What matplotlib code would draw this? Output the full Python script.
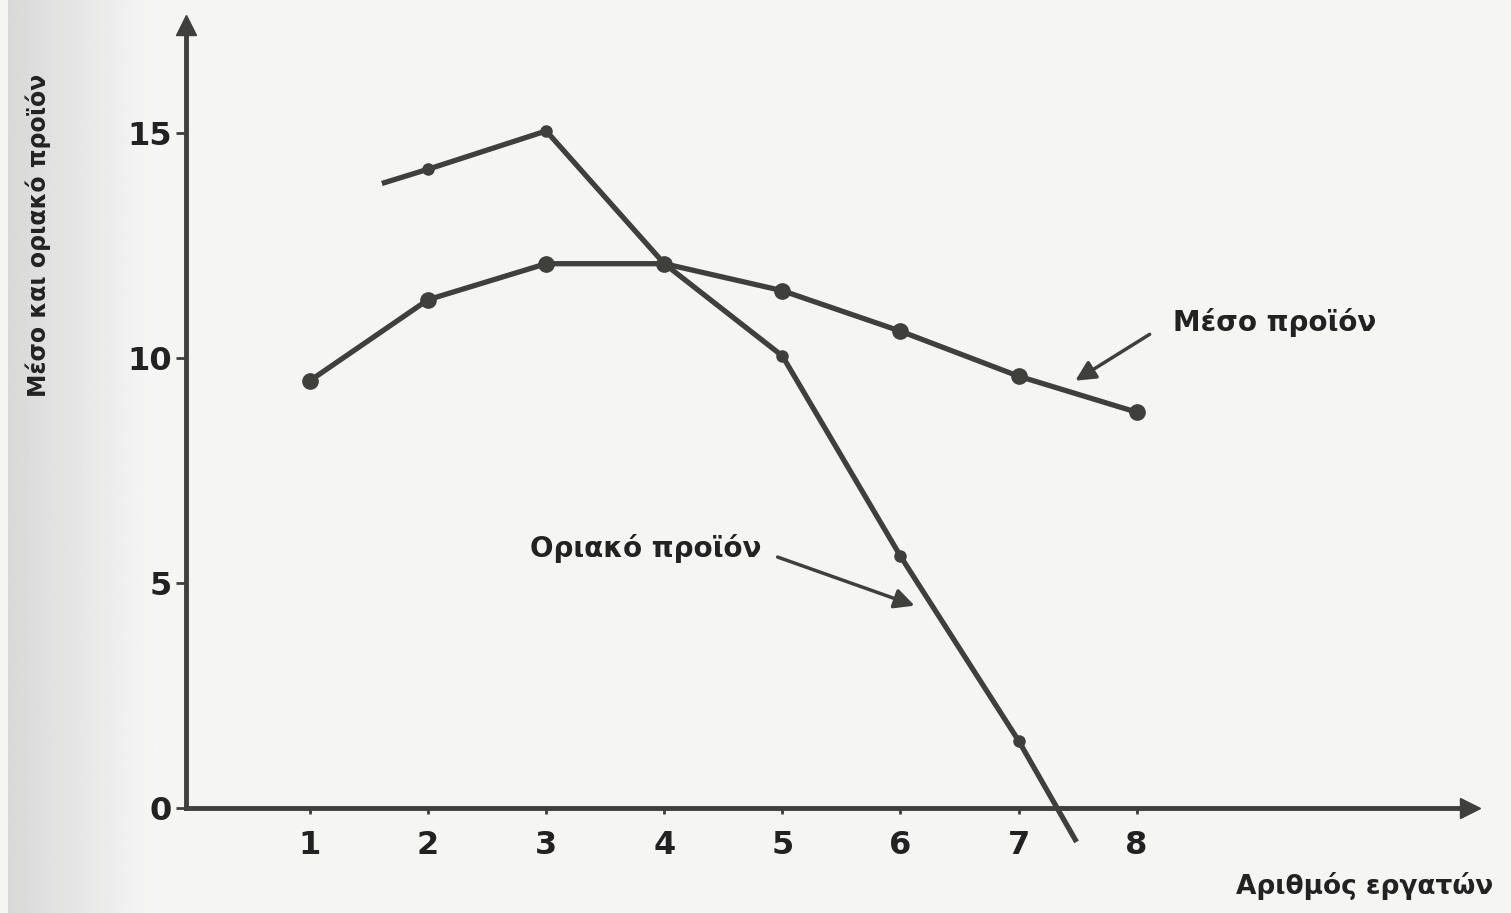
import numpy as np
import matplotlib
matplotlib.use("Agg")
import matplotlib.pyplot as plt

# data
workers = [1, 2, 3, 4, 5, 6, 7, 8]
avg_product = [9.5, 11.3, 12.1, 12.1, 11.5, 10.6, 9.6, 8.8]
mp_x = [1.63, 2, 3, 4, 5, 6, 7, 7.48]
mp_y = [13.9, 14.2, 15.05, 12.1, 10.05, 5.6, 1.5, -0.7]
mp_marked = [2, 3, 4, 5, 6, 7]
y_ticks = [0, 5, 10, 15]

ink = '#3f3f3c'
plt.rcParams['font.family'] = ['DejaVu Sans']

fig = plt.figure(figsize=(15.11, 9.13), dpi=100, facecolor='#f5f5f3')
ax = fig.add_axes([0, 0, 1, 1])
ax.set_facecolor('#f5f5f3')
ax.set_xlim(-1.625, 11.17)
ax.set_ylim(-2.33, 17.96)

# grey band of the scan on the left edge
grad = np.linspace(0.80, 0.96, 100).reshape(1, -1) ** 0.8
ax.imshow(grad, cmap='gray', vmin=0, vmax=1, aspect='auto',
          extent=(-1.56, -0.3, -2.33, 17.96), zorder=0, alpha=0.9)

# axes drawn as spines with arrow heads
for s in ['top', 'right']:
    ax.spines[s].set_visible(False)
ax.spines['left'].set_position(('data', -0.05))
ax.spines['bottom'].set_position(('data', 0))
ax.spines['left'].set_bounds(0, 17.3)
ax.spines['bottom'].set_bounds(-0.05, 10.75)
for s in ['left', 'bottom']:
    ax.spines[s].set_linewidth(3.5)
    ax.spines[s].set_color(ink)
ax.plot([-0.05], [17.4], marker='^', ms=14, color=ink, clip_on=False)
ax.plot([10.82], [0], marker='>', ms=14, color=ink, clip_on=False)

ax.set_xticks(workers)
ax.set_yticks(y_ticks)
ax.tick_params(axis='y', direction='out', length=7, width=2, color=ink,
               labelsize=23, pad=3, labelcolor='#222222')
ax.tick_params(axis='x', direction='out', length=4, width=2, color=ink,
               labelsize=23, pad=12, labelcolor='#222222')
for lab in ax.get_xticklabels() + ax.get_yticklabels():
    lab.set_fontweight('bold')

# average product
ax.plot(workers, avg_product, '-o', color=ink, lw=3.8, ms=11, zorder=3)
# marginal product
ax.plot(mp_x, mp_y, '-', color=ink, lw=3.8, zorder=3)
ax.plot([mp_x[i] for i in range(len(mp_x)) if mp_x[i] in mp_marked],
        [mp_y[i] for i in range(len(mp_x)) if mp_x[i] in mp_marked],
        'o', color=ink, ms=8, zorder=3)

# labels with arrows
arrow = dict(arrowstyle='-|>', color=ink, lw=2.5, mutation_scale=30,
             shrinkA=0, shrinkB=0)
ax.text(9.17, 10.8, 'Μέσο προϊόν', fontsize=20, fontweight='bold',
        color='#222222', ha='center', va='center')
ax.annotate('', xy=(7.48, 9.5), xytext=(8.11, 10.53), arrowprops=arrow)
ax.text(3.84, 5.78, 'Οριακό προϊόν', fontsize=20, fontweight='bold',
        color='#222222', ha='center', va='center')
ax.annotate('', xy=(6.12, 4.5), xytext=(4.96, 5.58), arrowprops=arrow)

ax.text(9.93, -1.72, 'Αριθμός εργατών', fontsize=19, fontweight='bold',
        color='#222222', ha='center', va='center')
ax.text(-1.3, 12.74, 'Μέσο και οριακό προϊόν', fontsize=17, fontweight='bold',
        color='#222222', ha='center', va='center', rotation=90)

fig.savefig('out.png', dpi=100, facecolor=fig.get_facecolor())
